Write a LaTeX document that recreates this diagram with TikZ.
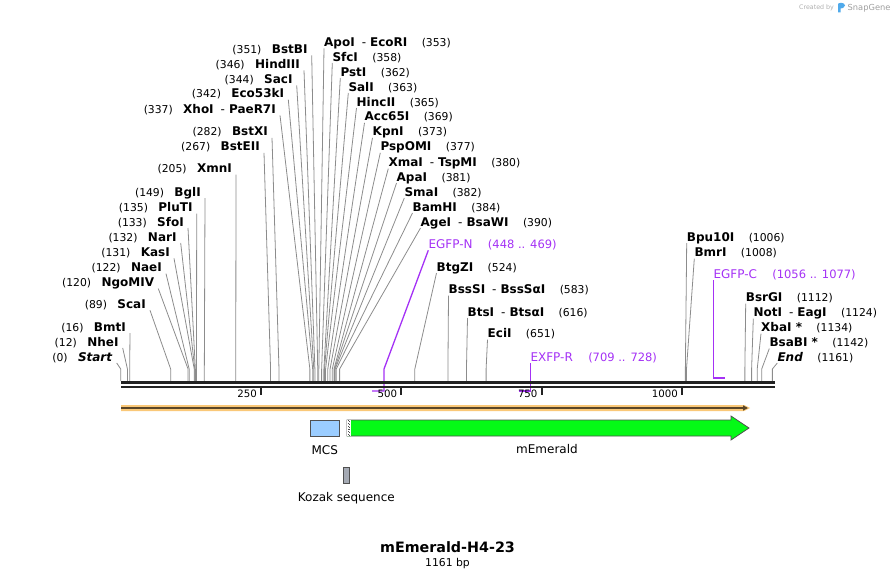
\documentclass[tikz,border=0pt]{standalone}
\usepackage{fontspec}
\setmainfont{DejaVu Sans}
\usepackage{tikz}
\usetikzlibrary{positioning}
\usetikzlibrary{arrows.meta}
\definecolor{cutgray}{RGB}{140,140,140}
\definecolor{barcol}{RGB}{34,34,34}
\definecolor{primer}{RGB}{164,49,245}
\definecolor{featline}{RGB}{80,80,80}
\definecolor{emerald}{RGB}{4,250,22}
\definecolor{mcsblue}{RGB}{155,205,255}
\definecolor{kozakgray}{RGB}{165,170,180}
\definecolor{orangeband}{RGB}{250,200,120}
\definecolor{orangeline}{RGB}{90,70,40}
\definecolor{markgray}{RGB}{175,175,175}
\definecolor{logoblue}{RGB}{80,170,235}
\newcommand{\cutsep}{\hspace{7pt}{\mdseries -}\hspace{4pt}}
\tikzset{
  site_name/.style = {inner sep=0pt, font=\fontsize{12}{14}\selectfont\bfseries},
  site_pos/.style = {inner sep=0pt, font=\fontsize{10.8}{13}\selectfont},
  cut_line/.style = {draw=cutgray, line width=0.8pt},
  primer_name/.style = {inner sep=0pt, text=primer, font=\fontsize{12}{14}\selectfont},
  primer_pos/.style = {inner sep=0pt, text=primer, font=\fontsize{11.5}{14}\selectfont},
  primer_line/.style = {draw=primer, line width=1.3pt},
  feat_box/.style = {draw=featline, line width=0.8pt, inner sep=0pt},
  feat_label/.style = {inner sep=0pt, font=\fontsize{12}{14}\selectfont},
  tick_label/.style = {inner sep=0pt, font=\fontsize{10.2}{12}\selectfont}
}
\begin{document}
\begin{tikzpicture}[x=1pt, y=-1pt]
  \useasboundingbox (0,0) rectangle (896,578);

  % enzymes left of their cut line
  \foreach \id/\txt/\yc/\ax/\bp in {
      bstbi/BstBI/49/311.7/351, hindiii/HindIII/64/304/346,
      saci/SacI/79/296.7/344, ecofivethree/Eco53kI/93.3/288.3/342,
      xhoi/XhoI\cutsep PaeR7I/109/280/337, bstxi/BstXI/131.5/272/282,
      bsteii/BstEII/146.5/264/267, xmni/XmnI/168.3/236/205,
      bgli/BglI/191.7/205/149, pluti/PluTI/207.3/196.7/135,
      sfoi/SfoI/221.7/188/133, nari/NarI/236.7/180.7/132,
      kasi/KasI/252/174/131, naei/NaeI/267.3/166/122,
      ngomiv/NgoMIV/282.3/158.3/120, scai/ScaI/304/150/89,
      bmti/BmtI/326.7/130/16, nhei/NheI/341.7/122.7/12,
      start/\textit{Start}/356.7/116.7/0}
  {
    \pgfmathsetmacro\sx{120.7+0.5613*\bp}
    \node[site_name, anchor=base east] (\id) at (\ax-4,\yc+4.3) {\txt};
    \node[site_pos, base left=10pt of \id] (\id-n) {(\bp)};
    \coordinate (\id-s) at (\sx,381);
    \draw[cut_line] ([xshift=4pt,yshift=-2pt]\id.base east) -- (\sx,369) -- (\id-s);
  }

  % enzymes right of their cut line
  \foreach \id/\txt/\yc/\ax/\bp in {
      apoi/ApoI\cutsep EcoRI/42/324/353, sfci/SfcI/56.7/332.3/358,
      psti/PstI/71.7/340.3/362, sali/SalI/86.7/348.3/363,
      hincii/HincII/101.7/356.5/365, acc65i/Acc65I/116.5/364.5/369,
      kpni/KpnI/131.5/372.5/373, pspomi/PspOMI/146.5/380.3/377,
      xmai/XmaI\cutsep TspMI/162.3/388.3/380, apai/ApaI/176.7/396.5/381,
      smai/SmaI/191.7/404.3/382, bamhi/BamHI/206.7/412.5/384,
      agei/AgeI\cutsep BsaWI/221.7/420.5/390, btgzi/BtgZI/266.7/436.5/524,
      bsssi/BssSI\cutsep BssSαI/289.3/448.5/583, btsi/BtsI\cutsep BtsαI/311.7/467.5/616,
      ecii/EciI/333.3/487.5/651, bputeni/Bpu10I/236.7/686.7/1006,
      bmri/BmrI/252.3/694.3/1008, bsrgi/BsrGI/297.3/745.7/1112,
      noti/NotI\cutsep EagI/312.3/753.3/1124, xbai/XbaI\ */327.3/761/1134,
      bsabi/BsaBI\ */342.3/769.3/1142, end/\textit{End}/356.7/777.3/1161}
  {
    \pgfmathsetmacro\sx{120.7+0.5613*\bp}
    \node[site_name, anchor=base west] (\id) at (\ax,\yc+4.3) {\txt};
    \node[site_pos, base right=14pt of \id] (\id-n) {(\bp)};
    \coordinate (\id-s) at (\sx,381);
    \draw[cut_line] ([yshift=-2pt]\id.base west) -- (\sx,369) -- (\id-s);
  }

  % primers
  \node[primer_name, anchor=base west] (egfpn) at (428.3,248.3) {EGFP-N};
  \node[primer_pos, base right=15pt of egfpn] (egfpn-n) {(448 .. 469)};
  \coordinate (egfpn-e) at (372.2,391);
  \draw[primer_line] ([yshift=-2pt]egfpn.base west) -- (384,369) -- (384,391) -- (egfpn-e);

  \node[primer_name, anchor=base west] (exfpr) at (530.3,361) {EXFP-R};
  \node[primer_pos, base right=15pt of exfpr] (exfpr-n) {(709 .. 728)};
  \coordinate (exfpr-e) at (518.7,391);
  \draw[primer_line] ([yshift=-2pt]exfpr.base west) -- (530.3,391) -- (exfpr-e);

  \node[primer_name, anchor=base west] (egfpc) at (713.3,278.3) {EGFP-C};
  \node[primer_pos, base right=15pt of egfpc] (egfpc-n) {(1056 .. 1077)};
  \coordinate (egfpc-e) at (725.2,378);
  \draw[primer_line] ([yshift=-2pt]egfpc.base west) -- (713.3,378) -- (egfpc-e);

  % sequence bar and ruler
  \draw[barcol, line width=3pt] (121,382.5) -- (775,382.5);
  \draw[barcol, line width=2pt] (121,386.5) -- (775,386.5);
  \foreach \t in {250,500,750,1000}{
    \pgfmathsetmacro\tx{120.7+0.5613*\t}
    \draw[barcol, line width=1.8pt] (\tx,387) -- (\tx,394.5);
    \node[tick_label, anchor=east] (tick-\t) at (\tx-4,393.5) {\t};
  }

  \fill[orangeband] (121,405) -- (744,405) -- (750,408) -- (744,411) -- (121,411) -- cycle;
  \draw[orangeline, line width=1.6pt, -{Triangle[length=5pt,width=5pt]}] (121,408) -- (748,408);

  % features
  \filldraw[fill=emerald, draw=featline, line width=0.8pt] (347,420) -- (731,420) -- (731,416)
    -- (749,428) -- (731,440) -- (731,436) -- (347,436) -- cycle;
  \fill[white] (347.4,420.4) rectangle (350.6,435.6);
  \draw[featline, dotted, line width=0.7pt] (348.2,420.4) -- (348.2,435.6);
  \draw[featline, dotted, line width=0.7pt] (349.8,421.2) -- (349.8,435.6);
  \node[feat_label] (emerald-l) at (547,449) {mEmerald};

  \node[feat_box, fill=mcsblue, minimum width=29.5pt, minimum height=16pt] (mcs) at (324.7,428) {};
  \node[feat_label, below=8.5pt of mcs] (mcs-l) {MCS};
  \node[feat_box, fill=kozakgray, minimum width=6.8pt, minimum height=16pt] (kozak) at (346.3,475) {};
  \node[feat_label, below=8.5pt of kozak] (kozak-l) {Kozak sequence};

  % title
  \node[inner sep=0pt, anchor=base, font=\fontsize{14.3}{16}\selectfont\bfseries] (title) at (447.5,552.2) {mEmerald-H4-23};
  \node[site_pos, anchor=base] (length) at (447.5,566) {1161 bp};

  % watermark
  \node[inner sep=0pt, anchor=base west, text=markgray, font=\fontsize{6.3}{7}\selectfont] (created) at (799,9.5) {Created by};
  \fill[logoblue] (838,12.5) -- (838,4) .. controls (838,2.5) and (845,2) .. (845,5.5)
    .. controls (845,8) and (841.5,8.5) .. (840.5,8.5) -- (840.5,12.5) -- cycle;
  \node[inner sep=0pt, anchor=base west, text=markgray!90!black, font=\fontsize{8.3}{9}\selectfont] (snapgene) at (847.5,10.5) {SnapGene};
\end{tikzpicture}
\end{document}
